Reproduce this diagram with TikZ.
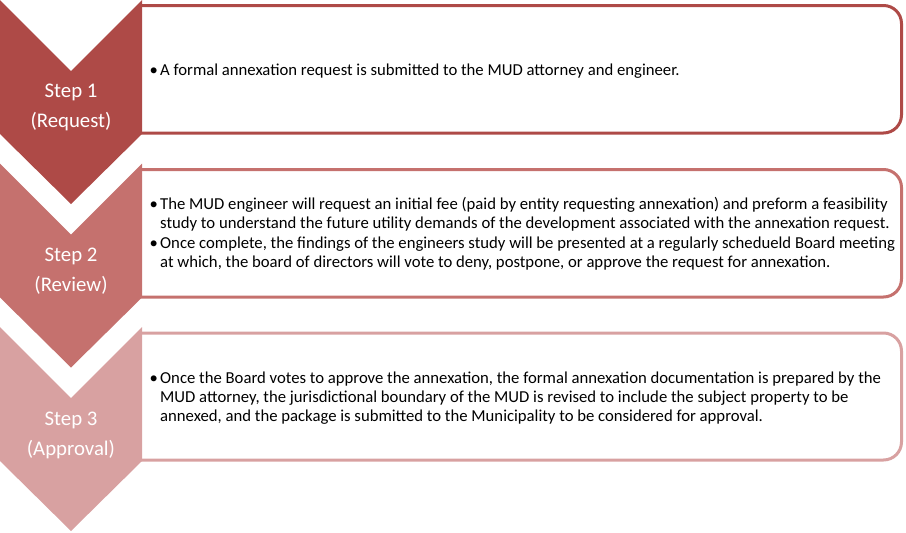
\documentclass[tikz,border=0pt]{standalone}
\usepackage{fontspec}
\setmainfont{Carlito}
\definecolor{cA}{HTML}{AE4A47}
\definecolor{cB}{HTML}{C5716E}
\definecolor{cC}{HTML}{D8A1A1}
\newcommand{\bul}{\makebox[10.5pt][l]{\textbullet}}
\newcommand{\ind}{\hspace*{10.5pt}}
\tikzset{
  chev/.style={fill=#1, draw=none},
  stepbox/.style={draw=#1, line width=3pt, rounded corners=18pt},
  steplabel/.style={text=white, font=\fontsize{20.8}{30}\selectfont, align=center, inner sep=0pt},
  bodytext/.style={anchor=west, align=left, inner sep=0pt, font=\fontsize{16.7}{18.7}\selectfont}
}
\begin{document}
\begin{tikzpicture}[x=1pt,y=-1pt]
\useasboundingbox (0,0) rectangle (906,533);
% boxes
\draw[stepbox=cA] (140,5.5) -- (901.5,5.5) -- (901.5,133) -- (140,133);
\draw[stepbox=cB] (140,169.5) -- (901.5,169.5) -- (901.5,297) -- (140,297);
\draw[stepbox=cC] (140,333) -- (901.5,333) -- (901.5,460) -- (140,460);
% chevrons
\fill[chev=cA] (0,0) -- (71,71) -- (142,0) -- (142,134) -- (71,204) -- (0,134) -- cycle;
\fill[chev=cB] (0,163.5) -- (71,234.5) -- (142,163.5) -- (142,297.5) -- (71,367.5) -- (0,297.5) -- cycle;
\fill[chev=cC] (0,327) -- (71,398) -- (142,327) -- (142,461) -- (71,531) -- (0,461) -- cycle;
% labels
\node[steplabel] (s1) at (71,107) {Step 1\\(Request)};
\node[steplabel] (s2) at (71,271) {Step 2\\(Review)};
\node[steplabel] (s3) at (71,435) {Step 3\\(Approval)};
% texts
\node[bodytext] (t1) at (149.5,71) {\bul A formal annexation request is submitted to the MUD attorney and engineer.};
\node[bodytext] (t2) at (149.5,234) {\bul The MUD engineer will request an initial fee (paid by entity requesting annexation) and preform a feasibility\\
\ind study to understand the future utility demands of the development associated with the annexation request.\\[1.5pt]
\bul Once complete, the findings of the engineers study will be presented at a regularly schedueld Board meeting\\
\ind at which, the board of directors will vote to deny, postpone, or approve the request for annexation.};
\node[bodytext] (t3) at (149.5,398) {\bul Once the Board votes to approve the annexation, the formal annexation documentation is prepared by the\\
\ind MUD attorney, the jurisdictional boundary of the MUD is revised to include the subject property to be\\
\ind annexed, and the package is submitted to the Municipality to be considered for approval.};
\end{tikzpicture}
\end{document}
